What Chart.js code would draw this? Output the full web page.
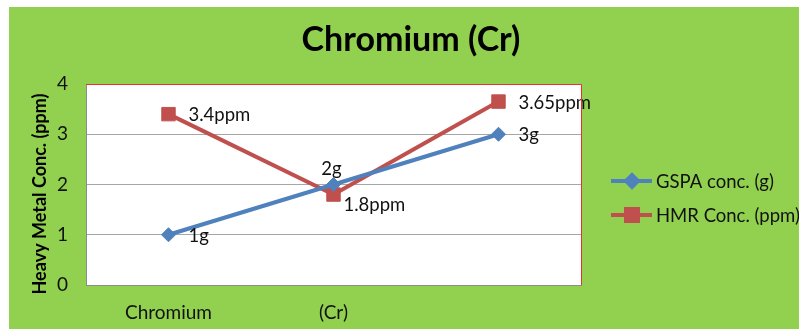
<!DOCTYPE html>
<html>
<head>
<meta charset="utf-8">
<script src="https://cdn.jsdelivr.net/npm/chart.js@4"></script>
<style>
  html, body { margin: 0; padding: 0; background: #ffffff; }
  canvas { display: block; }
</style>
</head>
<body>
<canvas id="chart" width="799" height="329"></canvas>
<script>
// Chart data
const categories = ['Chromium', '(Cr)', ''];
const gspaValues = [1, 2, 3];
const hmrValues = [3.4, 1.8, 3.65];
const yTickValues = [0, 1, 2, 3, 4];
const seriesNames = ['GSPA conc. (g)', 'HMR Conc. (ppm)'];
const valueUnits = ['g', 'ppm'];
const chartTitle = 'Chromium (Cr)';
const yAxisTitle = 'Heavy Metal Conc. (ppm)';

const FONT = 'Lato, "Open Sans", sans-serif';
const BLUE = '#4F81BD';
const RED = '#C0504D';
const GREEN = '#92D050';
const TEXT = '#111111';

// where each value label sits relative to its point
const labelPlacement = [
  ['right', 'above', 'right'],
  ['right', 'rightBelow', 'right']
];

const decorPlugin = {
  id: 'decor',
  beforeDraw(chart) {
    const { ctx, chartArea: a } = chart;
    ctx.save();
    ctx.fillStyle = '#ffffff';
    ctx.fillRect(0, 0, chart.width, chart.height);
    ctx.fillStyle = GREEN;
    ctx.fillRect(9, 7, chart.width - 9, chart.height - 7);
    ctx.fillStyle = '#ffffff';
    ctx.fillRect(a.left, a.top, a.right - a.left, a.bottom - a.top);
    ctx.restore();
  },
  afterDatasetsDraw(chart) {
    const { ctx } = chart;
    ctx.save();
    ctx.font = '18.5px ' + FONT;
    ctx.fillStyle = TEXT;
    ctx.textBaseline = 'middle';
    chart.data.datasets.forEach((ds, i) => {
      const meta = chart.getDatasetMeta(i);
      meta.data.forEach((pt, j) => {
        const text = ds.data[j] + valueUnits[i];
        const place = labelPlacement[i][j];
        if (place === 'above') {
          ctx.textAlign = 'center';
          ctx.fillText(text, pt.x - 2, pt.y - 15);
        } else if (place === 'rightBelow') {
          ctx.textAlign = 'left';
          ctx.fillText(text, pt.x + 10, pt.y + 10);
        } else {
          ctx.textAlign = 'left';
          ctx.fillText(text, pt.x + 20, pt.y + 1);
        }
      });
    });
    ctx.restore();
  },
  afterDraw(chart) {
    const { ctx, chartArea: a } = chart;
    ctx.save();
    // red frame on the top and right of the plot
    ctx.strokeStyle = '#E8322E';
    ctx.lineWidth = 1;
    ctx.beginPath();
    ctx.moveTo(a.left, a.top + 0.5);
    ctx.lineTo(a.right + 0.5, a.top + 0.5);
    ctx.lineTo(a.right + 0.5, a.bottom);
    ctx.stroke();

    // chart title
    ctx.fillStyle = '#000000';
    ctx.font = 'bold 34px ' + FONT;
    ctx.textAlign = 'center';
    ctx.textBaseline = 'middle';
    ctx.fillText(chartTitle, 411, 40);

    // value axis title
    ctx.save();
    ctx.translate(40, 194);
    ctx.rotate(-Math.PI / 2);
    ctx.font = 'bold 18px ' + FONT;
    ctx.fillText(yAxisTitle, 0, 0);
    ctx.restore();

    // legend
    ctx.font = '18.5px ' + FONT;
    ctx.textAlign = 'left';
    chart.data.datasets.forEach((ds, i) => {
      const y = 181 + i * 34;
      ctx.strokeStyle = ds.borderColor;
      ctx.lineWidth = 4;
      ctx.beginPath();
      ctx.moveTo(611, y);
      ctx.lineTo(652, y);
      ctx.stroke();
      ctx.fillStyle = ds.pointBackgroundColor;
      ctx.strokeStyle = ds.pointBorderColor;
      Chart.helpers.drawPoint(ctx, {
        pointStyle: ds.pointStyle,
        radius: ds.pointStyle === 'rect' ? 8.5 : 6,
        borderWidth: 1
      }, 632, y);
      ctx.fillStyle = TEXT;
      ctx.fillText(ds.label, 656, y + 1);
    });
    ctx.restore();
  }
};

new Chart(document.getElementById('chart'), {
  type: 'line',
  data: {
    labels: categories,
    datasets: [
      {
        label: seriesNames[0],
        data: gspaValues,
        borderColor: BLUE,
        backgroundColor: BLUE,
        pointBackgroundColor: BLUE,
        pointBorderColor: BLUE,
        pointStyle: 'rectRot',
        pointRadius: 7,
        pointBorderWidth: 1,
        borderWidth: 4,
        tension: 0
      },
      {
        label: seriesNames[1],
        data: hmrValues,
        borderColor: RED,
        backgroundColor: RED,
        pointBackgroundColor: RED,
        pointBorderColor: RED,
        pointStyle: 'rect',
        pointRadius: 9.5,
        pointBorderWidth: 1,
        borderWidth: 4,
        tension: 0
      }
    ]
  },
  options: {
    responsive: false,
    animation: false,
    layout: { padding: { top: 84, left: 9, right: 218, bottom: 0 } },
    plugins: {
      legend: { display: false },
      title: { display: false },
      tooltip: { enabled: false }
    },
    scales: {
      x: {
        offset: true,
        grid: { display: false, drawTicks: false },
        border: { color: '#8C8C8C', width: 1 },
        ticks: { color: TEXT, font: { family: FONT, size: 19 }, padding: 16 },
        afterFit(scale) { scale.height = 44; }
      },
      y: {
        min: 0,
        max: 4,
        afterBuildTicks(scale) { scale.ticks = yTickValues.map(v => ({ value: v })); },
        grid: { color: '#A6A6A6', lineWidth: 1, drawTicks: false },
        border: { color: '#8C8C8C', width: 1 },
        ticks: { color: TEXT, font: { family: FONT, size: 19 }, padding: 18 },
        afterFit(scale) { scale.width = 77; }
      }
    }
  },
  plugins: [decorPlugin]
});
</script>
</body>
</html>
